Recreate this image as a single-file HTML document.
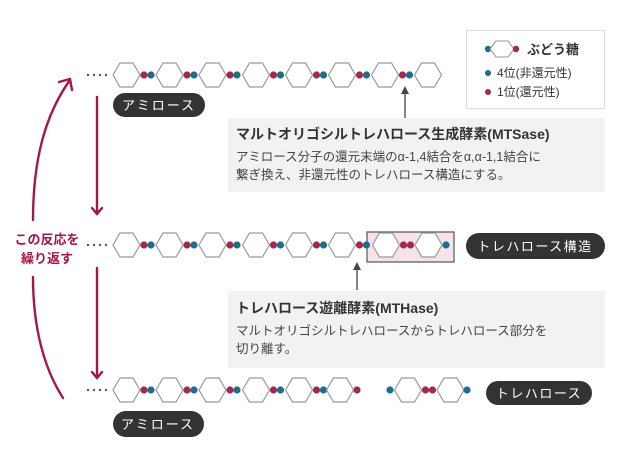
<!DOCTYPE html>
<html><head><meta charset="utf-8"><style>
html,body{margin:0;padding:0;background:#fff;}
svg{display:block;font-family:"Liberation Sans","Noto Sans CJK JP",sans-serif;}
</style></head><body>
<svg width="617" height="469" viewBox="0 0 617 469" xmlns="http://www.w3.org/2000/svg">
<defs>
<polygon id="h" points="-13.5,0 -6.5,-12 6.5,-12 13.5,0 6.5,12 -6.5,12" fill="#fff" stroke="#999" stroke-width="1.2"/>
<g id="u"><use href="#h"/><circle cx="17.5" cy="0" r="3.6" fill="#a3284e"/><circle cx="24.5" cy="0" r="3.6" fill="#1d6d8c"/></g>
<g id="dd"><circle cx="0" r="1.2" fill="#555"/><circle cx="6" r="1.2" fill="#555"/><circle cx="12" r="1.2" fill="#555"/><circle cx="18" r="1.2" fill="#555"/></g>
</defs>

<!-- legend -->
<rect x="466.5" y="30.5" width="138" height="78" fill="#fff" stroke="#ddd"/>
<circle cx="488" cy="49" r="3.2" fill="#1d6d8c"/>
<polygon points="490,49 496,41 508,41 514,49 508,57 496,57" fill="#fff" stroke="#999" stroke-width="1.1"/>
<circle cx="516" cy="49" r="3.2" fill="#a3284e"/>
<text x="527" y="54" font-size="13" font-weight="bold" fill="#333">ぶどう糖</text>
<circle cx="488" cy="73" r="3" fill="#1d6d8c"/>
<text x="497" y="77" font-size="12" fill="#333">4位(非還元性)</text>
<circle cx="488" cy="92" r="3" fill="#a3284e"/>
<text x="497" y="96" font-size="12" fill="#333">1位(還元性)</text>

<!-- row 1 -->
<use href="#dd" x="88" y="75"/>
<g transform="translate(0,75)">
<use href="#u" x="126.5"/><use href="#u" x="169.5"/><use href="#u" x="212.5"/><use href="#u" x="256"/>
<use href="#u" x="299"/><use href="#u" x="342"/><use href="#u" x="385"/><use href="#h" x="428"/>
</g>
<rect x="113" y="93" width="92" height="24" rx="12" fill="#333"/>
<text x="159" y="110" font-size="13" fill="#fff" text-anchor="middle" letter-spacing="2">アミロース</text>

<line x1="405" y1="118" x2="405" y2="92" stroke="#444" stroke-width="1.3"/>
<polygon points="405,86 401,94 409,94" fill="#444"/>

<rect x="228" y="118" width="377" height="74" fill="#f2f2f2"/>
<text x="236" y="139" font-size="14" font-weight="bold" fill="#333">マルトオリゴシルトレハロース生成酵素(MTSase)</text>
<text x="236" y="161" font-size="12.5" fill="#444">アミロース分子の還元末端のα-1,4結合をα,α-1,1結合に</text>
<text x="236" y="179" font-size="12.5" fill="#444">繋ぎ換え、非還元性のトレハロース構造にする。</text>

<!-- row 2 -->
<rect x="367" y="232" width="87" height="30" fill="#f5e3e9" stroke="#555" stroke-width="1.2"/>
<use href="#dd" x="88" y="245"/>
<g transform="translate(0,245)">
<use href="#u" x="126.5"/><use href="#u" x="169.5"/><use href="#u" x="212.5"/><use href="#u" x="256"/>
<use href="#u" x="299"/><use href="#u" x="342"/>
<use href="#h" x="386"/><circle cx="403.5" r="3.6" fill="#a3284e"/><circle cx="410.5" r="3.6" fill="#a3284e"/>
<use href="#h" x="428.5"/><circle cx="446" r="3.6" fill="#1d6d8c"/>
</g>
<rect x="466" y="233" width="139" height="26" rx="13" fill="#333"/>
<text x="535" y="251" font-size="13" fill="#fff" text-anchor="middle" letter-spacing="1.5">トレハロース構造</text>

<line x1="357" y1="290" x2="357" y2="268" stroke="#444" stroke-width="1.3"/>
<polygon points="357,262 353,270 361,270" fill="#444"/>

<rect x="228" y="291" width="377" height="77" fill="#f2f2f2"/>
<text x="236" y="313" font-size="14" font-weight="bold" fill="#333">トレハロース遊離酵素(MTHase)</text>
<text x="236" y="335" font-size="12.5" fill="#444">マルトオリゴシルトレハロースからトレハロース部分を</text>
<text x="236" y="353" font-size="12.5" fill="#444">切り離す。</text>

<!-- row 3 -->
<use href="#dd" x="88" y="390"/>
<g transform="translate(0,390)">
<use href="#u" x="126.5"/><use href="#u" x="169.5"/><use href="#u" x="212.5"/><use href="#u" x="256"/>
<use href="#u" x="299"/><use href="#h" x="340"/><circle cx="357" r="3.6" fill="#a3284e"/>
<circle cx="390" r="3.6" fill="#1d6d8c"/>
<use href="#h" x="408"/><circle cx="425.5" r="3.6" fill="#a3284e"/><circle cx="432.5" r="3.6" fill="#a3284e"/>
<use href="#h" x="450.5"/><circle cx="467" r="3.6" fill="#1d6d8c"/>
</g>
<rect x="486" y="381" width="106" height="24" rx="12" fill="#333"/>
<text x="539" y="398" font-size="13" fill="#fff" text-anchor="middle" letter-spacing="1.5">トレハロース</text>
<rect x="113" y="411" width="91" height="26" rx="13" fill="#333"/>
<text x="158" y="429" font-size="13" fill="#fff" text-anchor="middle" letter-spacing="2">アミロース</text>

<!-- red arrows -->
<g stroke="#a3184a" stroke-width="2.4" fill="none" stroke-linecap="round">
<line x1="97" y1="97" x2="97" y2="213"/>
<polyline points="92,208 97,214 102,208"/>
<line x1="97" y1="268" x2="97" y2="378"/>
<polyline points="92,372 97,378 102,372"/>
<path d="M33,220 C33,160 45,115 70,80"/>
<polyline points="59,82 70,79 72,90"/>
<path d="M33,277 C33,330 45,370 63,398"/>
</g>
<text x="47" y="244" font-size="13" font-weight="bold" fill="#a3184a" text-anchor="middle">この反応を</text>
<text x="47" y="263" font-size="13" font-weight="bold" fill="#a3184a" text-anchor="middle">繰り返す</text>
</svg>
</body></html>
